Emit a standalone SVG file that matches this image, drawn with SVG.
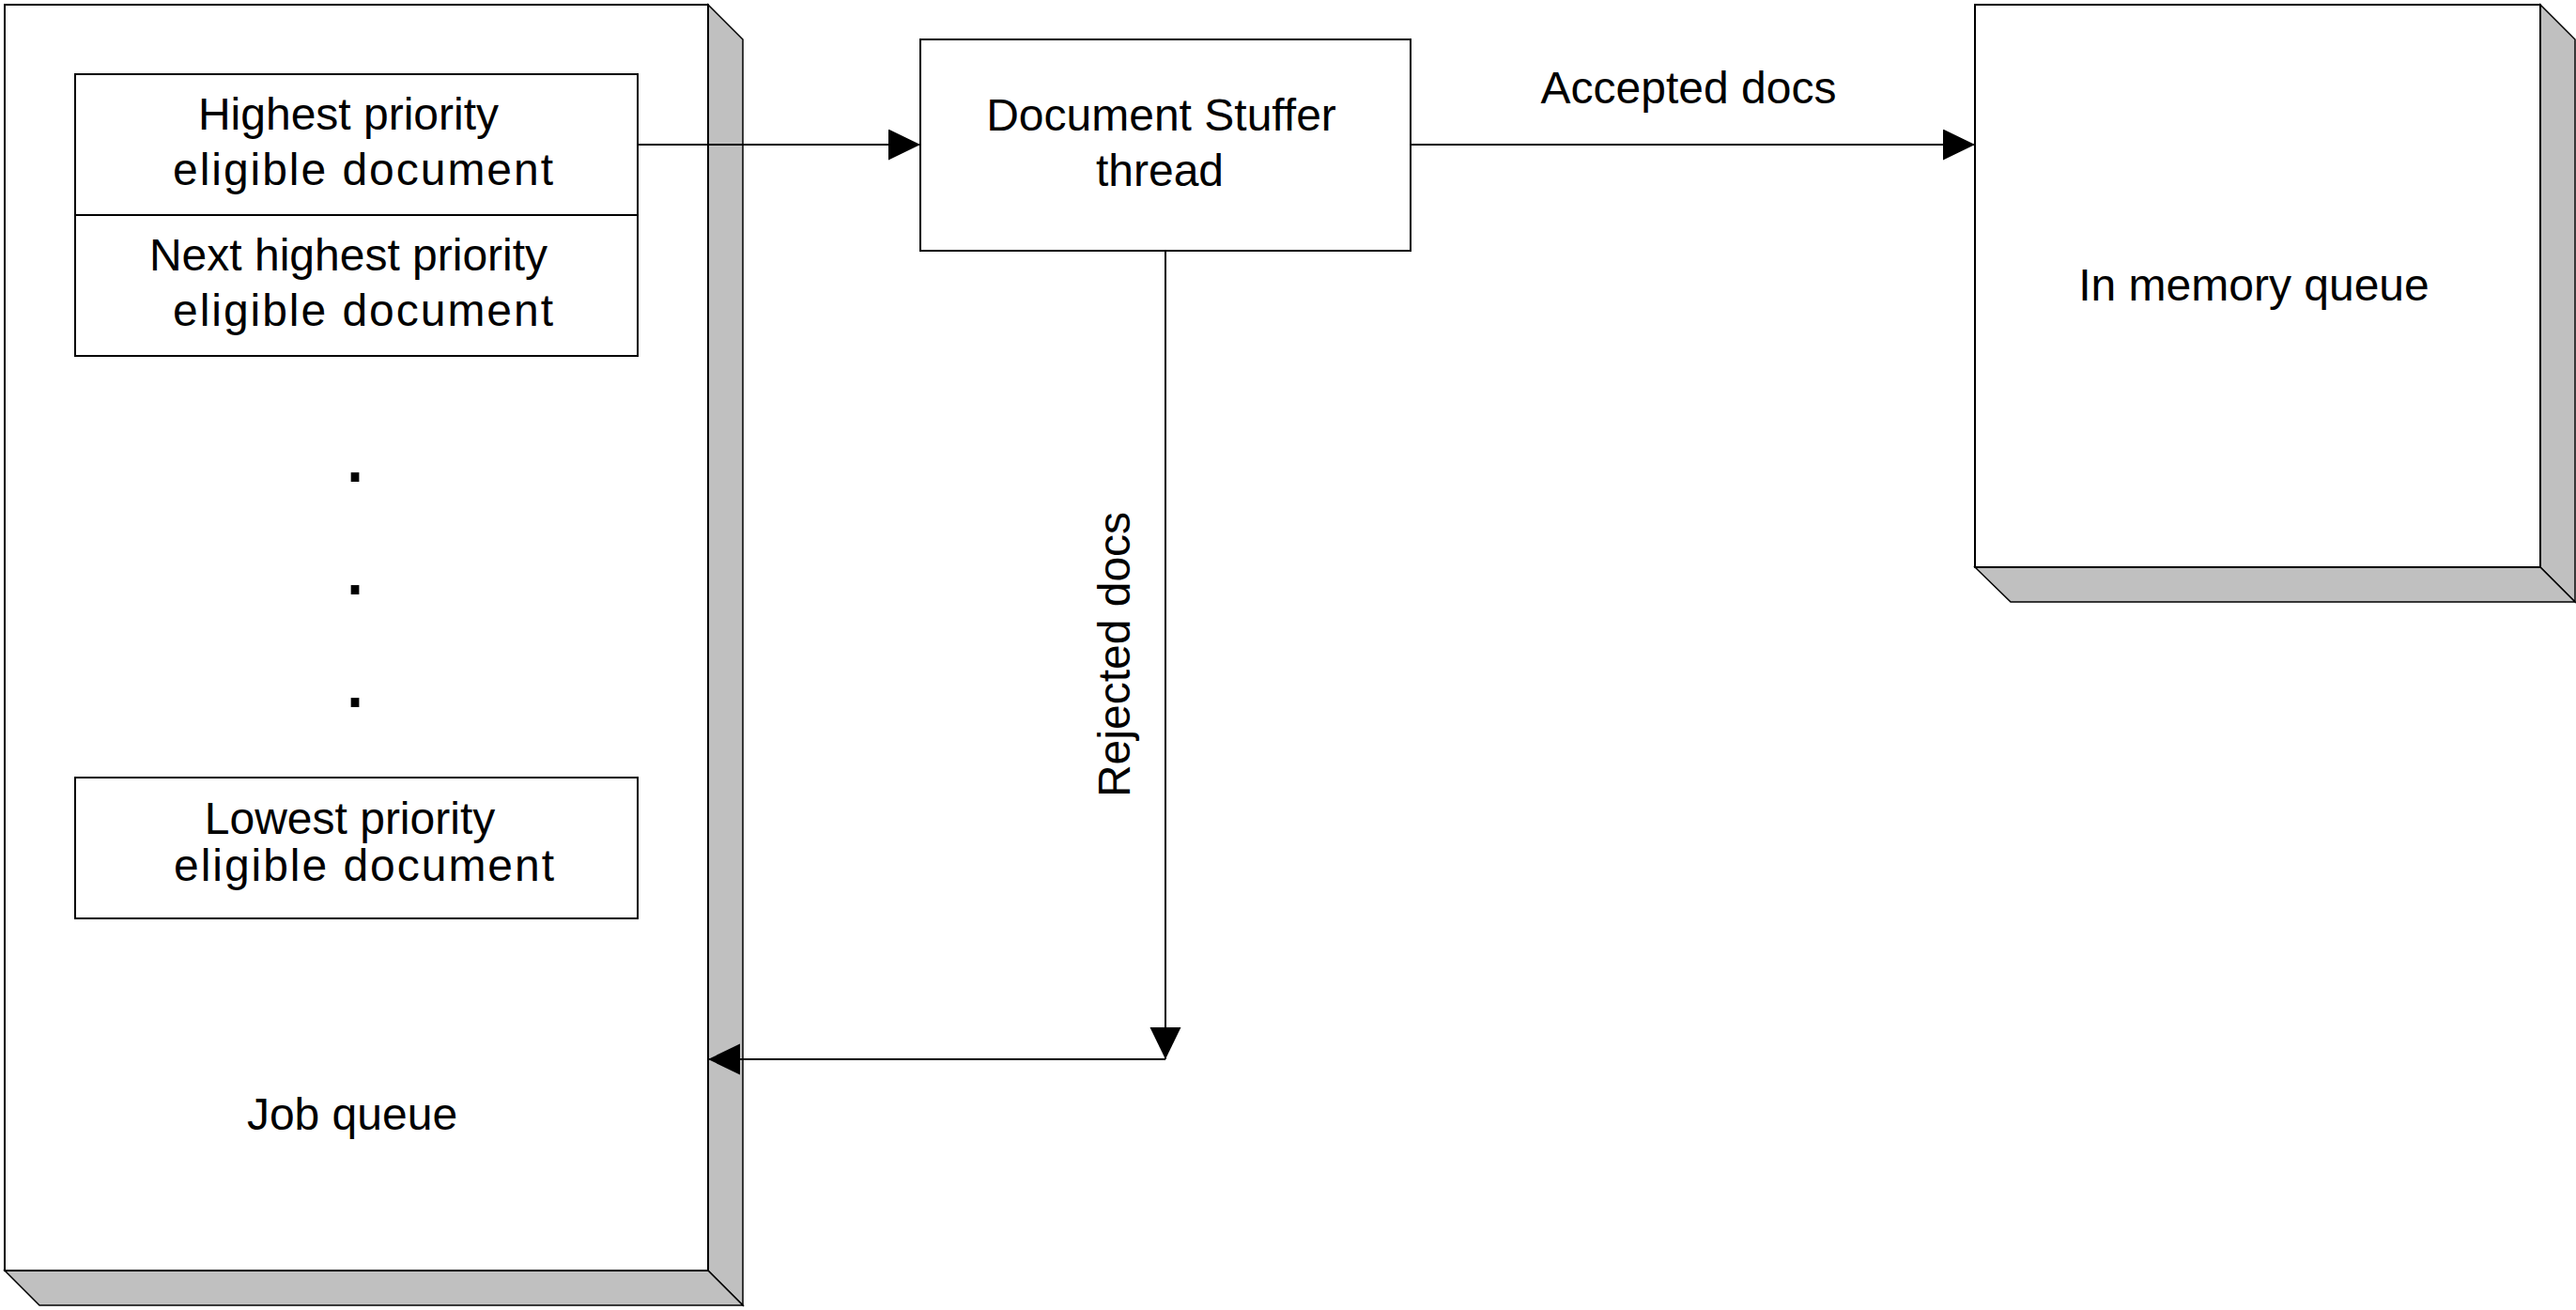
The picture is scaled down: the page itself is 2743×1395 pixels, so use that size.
<svg xmlns="http://www.w3.org/2000/svg" width="2743" height="1395" viewBox="0 0 2743 1395">
  <defs>
    <marker id="arrow" markerUnits="userSpaceOnUse" markerWidth="36" markerHeight="34" refX="34" refY="16.5" orient="auto">
      <path d="M0,0 L34,16.5 L0,33 Z" fill="#000"/>
    </marker>
    <style>
      .front { fill: #fff; stroke: #000; stroke-width: 2; }
      .side { fill: #c0c0c0; stroke: #000; stroke-width: 1.5; stroke-linejoin: miter; }
      .box { fill: #fff; stroke: #000; stroke-width: 2; }
      .conn { fill: none; stroke: #000; stroke-width: 2; }
      text { font-family: "Liberation Sans", Arial, sans-serif; font-size: 48px; fill: #000; text-anchor: middle; }
      .dot { font-size: 92px; }
    </style>
  </defs>
  <rect width="2743" height="1395" fill="#fff"/>

  <g id="job-queue">
    <polygon class="side" points="754,5 791,42 791,1390 754,1353"/>
    <polygon class="side" points="5,1353 42,1390 791,1390 754,1353"/>
    <rect class="front" x="5" y="5" width="749" height="1348"/>
    <text x="375" y="1203">Job queue</text>
  </g>

  <g id="highest-priority">
    <rect class="box" x="80" y="79" width="599" height="150"/>
    <text x="371" y="138">Highest priority</text>
    <text x="386.5" y="197" textLength="405" lengthAdjust="spacing">eligible document</text>
  </g>

  <g id="next-highest-priority">
    <rect class="box" x="80" y="229" width="599" height="150"/>
    <text x="371" y="288">Next highest priority</text>
    <text x="386.5" y="347" textLength="405" lengthAdjust="spacing">eligible document</text>
  </g>

  <g id="ellipsis">
    <text class="dot" x="378" y="513">.</text>
    <text class="dot" x="378" y="633">.</text>
    <text class="dot" x="378" y="753">.</text>
  </g>

  <g id="lowest-priority">
    <rect class="box" x="80" y="828" width="599" height="150"/>
    <text x="372.5" y="888">Lowest priority</text>
    <text x="387.5" y="938" textLength="405" lengthAdjust="spacing">eligible document</text>
  </g>

  <g id="document-stuffer">
    <rect class="box" x="980" y="42" width="522" height="225"/>
    <text x="1236.5" y="139">Document Stuffer</text>
    <text x="1235" y="198">thread</text>
  </g>

  <g id="memory-queue">
    <polygon class="side" points="2705,5 2742,42 2742,641 2705,604"/>
    <polygon class="side" points="2103,604 2141,641 2742,641 2705,604"/>
    <rect class="front" x="2103" y="5" width="602" height="599"/>
    <text x="2400" y="320">In memory queue</text>
  </g>

  <g id="connectors">
    <line class="conn" x1="679" y1="154" x2="980" y2="154" marker-end="url(#arrow)"/>
    <line class="conn" x1="1502" y1="154" x2="2103" y2="154" marker-end="url(#arrow)"/>
    <line class="conn" x1="1241" y1="267" x2="1241" y2="1128" marker-end="url(#arrow)"/>
    <line class="conn" x1="1241" y1="1128" x2="754" y2="1128" marker-end="url(#arrow)"/>
    <text x="1798" y="110">Accepted docs</text>
    <text transform="translate(1203,697) rotate(-90)">Rejected docs</text>
  </g>
</svg>
